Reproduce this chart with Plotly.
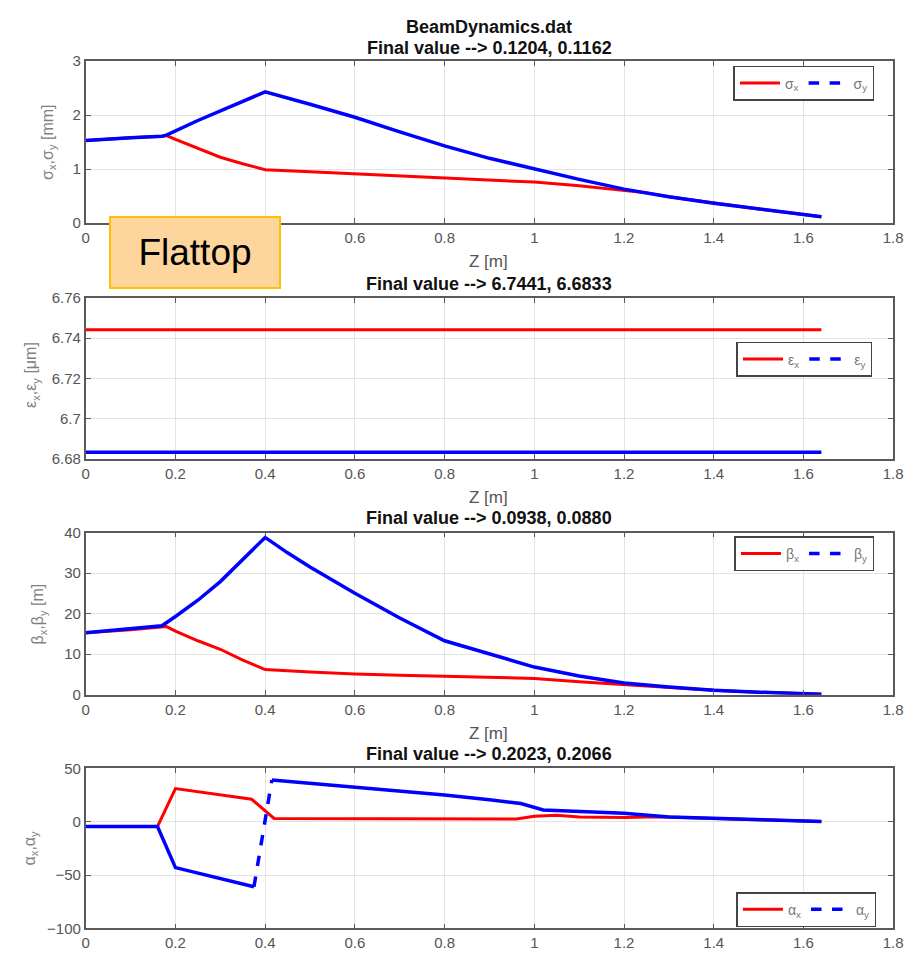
import plotly.graph_objects as go

W, H = 914, 960

# ---------------- data ----------------
# sigma [mm]
z_sx = [0, 0.05, 0.1, 0.17, 0.18, 0.2, 0.25, 0.3, 0.35, 0.4, 0.5, 0.6, 0.7, 0.8, 0.9, 1.0, 1.1, 1.2, 1.25, 1.3, 1.4, 1.5, 1.6, 1.64]
sig_x = [1.53, 1.56, 1.58, 1.61, 1.62, 1.55, 1.38, 1.22, 1.1, 0.99, 0.95, 0.91, 0.87, 0.83, 0.8, 0.76, 0.69, 0.61, 0.56, 0.49, 0.37, 0.26, 0.16, 0.12]
z_sy = [0, 0.05, 0.1, 0.17, 0.18, 0.25, 0.3, 0.35, 0.4, 0.5, 0.6, 0.7, 0.8, 0.9, 1.0, 1.1, 1.2, 1.3, 1.4, 1.5, 1.6, 1.64]
sig_y = [1.53, 1.56, 1.58, 1.61, 1.63, 1.9, 2.08, 2.26, 2.43, 2.2, 1.96, 1.69, 1.43, 1.2, 1.0, 0.81, 0.63, 0.49, 0.37, 0.26, 0.16, 0.12]

# emittance [um]
z_eps = [0, 1.64]
eps_x = [6.7441, 6.7441]
eps_y = [6.6833, 6.6833]

# beta [m]
z_bx = [0, 0.1, 0.18, 0.2, 0.25, 0.3, 0.35, 0.4, 0.5, 0.6, 0.7, 0.8, 0.9, 1.0, 1.1, 1.2, 1.25, 1.3, 1.4, 1.5, 1.6, 1.64]
beta_x = [15.3, 16.0, 16.8, 15.7, 13.3, 11.2, 8.5, 6.2, 5.6, 5.1, 4.8, 4.5, 4.3, 4.0, 3.2, 2.5, 2.2, 1.9, 1.1, 0.6, 0.3, 0.09]
z_by = [0, 0.1, 0.17, 0.2, 0.25, 0.3, 0.35, 0.4, 0.45, 0.5, 0.6, 0.7, 0.8, 0.9, 1.0, 1.1, 1.2, 1.3, 1.4, 1.5, 1.6, 1.64]
beta_y = [15.3, 16.2, 17.0, 19.3, 23.3, 27.9, 33.3, 38.8, 35.0, 31.5, 25.0, 18.9, 13.3, 10.0, 6.8, 4.6, 2.9, 1.9, 1.1, 0.6, 0.3, 0.09]

# alpha
z_ax = [0, 0.1, 0.16, 0.2, 0.3, 0.37, 0.42, 0.6, 0.8, 0.96, 1.0, 1.05, 1.1, 1.2, 1.25, 1.3, 1.4, 1.5, 1.6, 1.64]
alpha_x = [-4.5, -4.5, -4.5, 31, 25, 21, 3, 3, 3, 2.5, 5, 6, 4.5, 4, 4.5, 4.5, 3, 1.8, 0.5, 0.2]
z_ay = [0, 0.1, 0.16, 0.2, 0.3, 0.375, 0.415, 0.5, 0.6, 0.7, 0.8, 0.9, 0.97, 1.02, 1.1, 1.2, 1.3, 1.4, 1.5, 1.6, 1.64]
alpha_y = [-4.5, -4.5, -4.5, -43, -53, -61, 39, 36, 32.5, 28.5, 25, 20.5, 17, 11, 9.5, 8, 4.5, 3, 1.8, 0.5, 0.2]

x_ticks = [0, 0.2, 0.4, 0.6, 0.8, 1, 1.2, 1.4, 1.6, 1.8]
y_ticks = [[0, 1, 2, 3], [6.68, 6.7, 6.72, 6.74, 6.76], [0, 10, 20, 30, 40], [-100, -50, 0, 50]]
y_ranges = [[0, 3], [6.68, 6.76], [0, 40], [-100, 50]]
titles = ["BeamDynamics.dat<br>Final value --&gt; 0.1204, 0.1162",
          "Final value --&gt; 6.7441, 6.6833",
          "Final value --&gt; 0.0938, 0.0880",
          "Final value --&gt; 0.2023, 0.2066"]
y_labels = ["σ<sub>x</sub>,σ<sub>y</sub> [mm]", "ε<sub>x</sub>,ε<sub>y</sub> [μm]",
            "β<sub>x</sub>,β<sub>y</sub> [m]", "α<sub>x</sub>,α<sub>y</sub>"]
legend_names = [("σ<sub>x</sub>", "σ<sub>y</sub>"), ("ε<sub>x</sub>", "ε<sub>y</sub>"),
                ("β<sub>x</sub>", "β<sub>y</sub>"), ("α<sub>x</sub>", "α<sub>y</sub>")]

# ---------------- layout geometry (pixels) ----------------
X0, X1 = 83, 903
panels = [(53, 218), (294, 458), (533, 698), (773, 936)]
title_y = [[18, 40], [280], [518], [758]]
zlabel_y = [257, 497, 738, None]
ylab_pos = [(45, 136), (28, 373), (35, 616), (27, 854)]
legend_pos = [(884, 58), (882, 339), (884, 537), (886, 899)]

RED, BLUE = "#ff0000", "#0000ff"
FONT = "Liberation Sans, Arial, sans-serif"
GRAY = "#555555"

def px(x):
    return x / W

def py(y):
    return 1 - y / H

fig = go.Figure()

series = [
    (z_sx, sig_x, z_sy, sig_y),
    (z_eps, eps_x, z_eps, eps_y),
    (z_bx, beta_x, z_by, beta_y),
    (z_ax, alpha_x, z_ay, alpha_y),
]

for i, (zx, vx, zy, vy) in enumerate(series):
    n = i + 1
    xa = "x" if n == 1 else f"x{n}"
    ya = "y" if n == 1 else f"y{n}"
    lg = "legend" if n == 1 else f"legend{n}"
    nx, ny = legend_names[i]
    fig.add_trace(go.Scatter(x=zx, y=vx, mode="lines", line=dict(color=RED, width=3),
                             name=nx, xaxis=xa, yaxis=ya, legend=lg, showlegend=True))
    if i == 3:
        # steep jump shows the dash pattern; the rest looks solid
        slopes = [abs((vy[k + 1] - vy[k]) / (zy[k + 1] - zy[k])) for k in range(len(zy) - 1)]
        kj = slopes.index(max(slopes))
        fig.add_trace(go.Scatter(x=zy[:kj + 1], y=vy[:kj + 1], mode="lines",
                                 line=dict(color=BLUE, width=3.5), showlegend=False,
                                 xaxis=xa, yaxis=ya))
        fig.add_trace(go.Scatter(x=zy[kj:kj + 2], y=vy[kj:kj + 2], mode="lines",
                                 line=dict(color=BLUE, width=3.5, dash="dash"), showlegend=False,
                                 xaxis=xa, yaxis=ya))
        fig.add_trace(go.Scatter(x=zy[kj + 1:], y=vy[kj + 1:], mode="lines",
                                 line=dict(color=BLUE, width=3.5), showlegend=False,
                                 xaxis=xa, yaxis=ya))
    else:
        fig.add_trace(go.Scatter(x=zy, y=vy, mode="lines", line=dict(color=BLUE, width=3.5),
                                 showlegend=False, xaxis=xa, yaxis=ya))
    # legend entry for the dashed y-series
    fig.add_trace(go.Scatter(x=[None], y=[None], mode="lines",
                             line=dict(color=BLUE, width=3.5, dash="dash"),
                             name=ny, xaxis=xa, yaxis=ya, legend=lg, showlegend=True))

layout = dict(
    width=W, height=H,
    margin=dict(l=0, r=0, t=0, b=0),
    paper_bgcolor="white", plot_bgcolor="white",
    font=dict(family=FONT, color=GRAY, size=15),
    annotations=[],
)

axis_common = dict(
    showline=True, linecolor="#5a5a5a", linewidth=1.8, mirror="ticks",
    ticks="inside", ticklen=5, tickcolor="#5a5a5a", tickwidth=1,
    showgrid=True, gridcolor="#e3e3e3", gridwidth=1, zeroline=False,
    tickfont=dict(family=FONT, size=15, color=GRAY),
)

for i, (top, bot) in enumerate(panels):
    n = i + 1
    xk = "xaxis" if n == 1 else f"xaxis{n}"
    yk = "yaxis" if n == 1 else f"yaxis{n}"
    ya = "y" if n == 1 else f"y{n}"
    xa = "x" if n == 1 else f"x{n}"
    layout[xk] = dict(domain=[px(X0), px(X1)], range=[0, 1.8], tickvals=x_ticks,
                      anchor=ya, **axis_common)
    layout[yk] = dict(domain=[py(bot), py(top)], range=y_ranges[i], tickvals=y_ticks[i],
                      anchor=xa, **axis_common)
    lg = "legend" if n == 1 else f"legend{n}"
    lx, ly = legend_pos[i]
    layout[lg] = dict(x=px(lx), y=py(ly), xref="paper", yref="paper", xanchor="right", yanchor="top",
                      orientation="h", bgcolor="white", bordercolor="#444444", borderwidth=1.5,
                      font=dict(family=FONT, size=14, color="#777777"), itemwidth=40,
                      tracegroupgap=0)
    # titles
    lines = titles[i].split("<br>")
    for t, yy in zip(lines, title_y[i]):
        layout["annotations"].append(dict(text=f"<b>{t}</b>", x=px(493), y=py(yy), xref="paper", yref="paper",
                                          showarrow=False, xanchor="center", yanchor="middle",
                                          font=dict(family=FONT, size=18, color="#111111")))
    if zlabel_y[i] is not None:
        layout["annotations"].append(dict(text="Z [m]", x=px(492), y=py(zlabel_y[i]), xref="paper", yref="paper",
                                          showarrow=False, xanchor="center", yanchor="middle",
                                          font=dict(family=FONT, size=17, color=GRAY)))
    lx2, ly2 = ylab_pos[i]
    layout["annotations"].append(dict(text=y_labels[i], x=px(lx2), y=py(ly2), xref="paper", yref="paper",
                                      showarrow=False, xanchor="center", yanchor="middle", textangle=-90,
                                      font=dict(family=FONT, size=16, color="#808080")))

# Flattop label box
layout["annotations"].append(dict(text="Flattop", x=px(107), y=py(211), xref="paper", yref="paper",
                                  showarrow=False, xanchor="left", yanchor="top",
                                  width=168, height=69, align="center", valign="middle",
                                  bgcolor="#fdd59d", bordercolor="#ffc000", borderwidth=2, borderpad=0,
                                  font=dict(family=FONT, size=37, color="#000000")))

fig.update_layout(**layout)
fig.write_html("out.html")
